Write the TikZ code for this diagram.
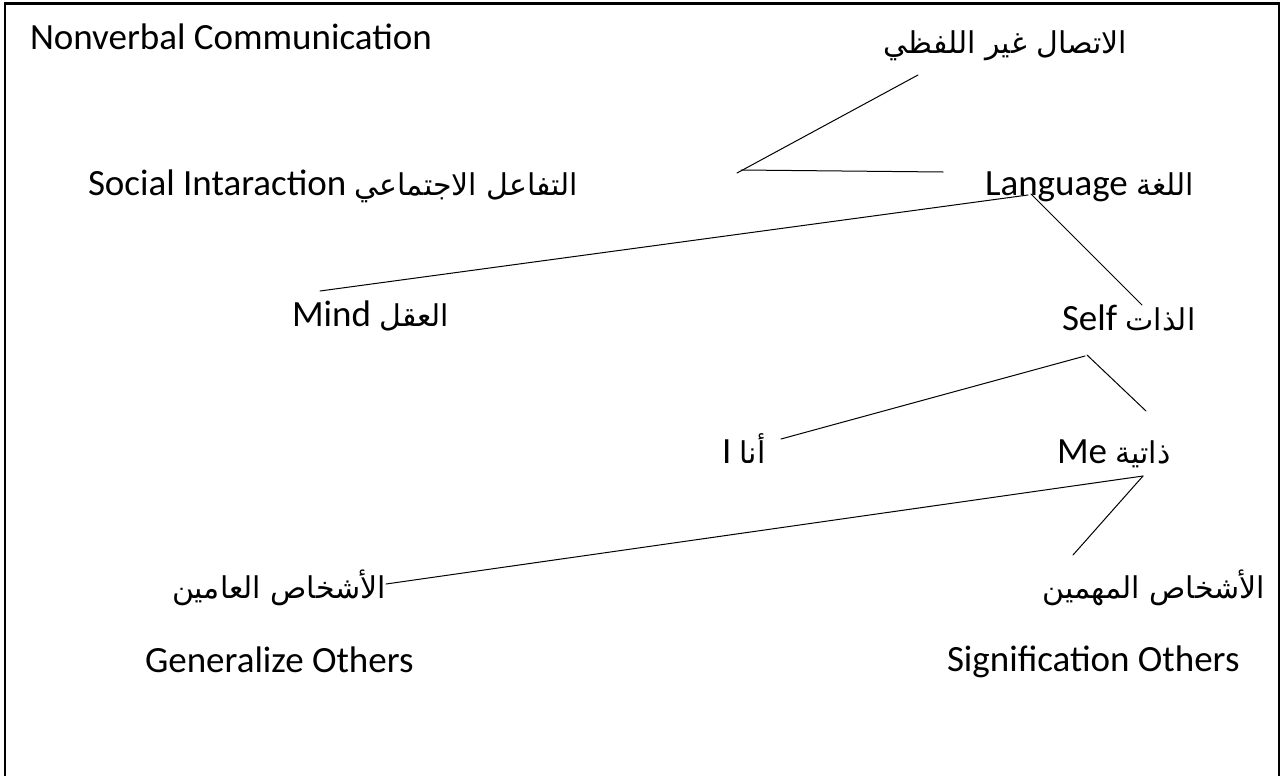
\documentclass[tikz,border=0pt]{standalone}
\usepackage{fontspec}
\setmainfont{Carlito}
\newfontfamily\arfont[Script=Arabic]{DejaVu Sans}
\TeXXeTstate=1
\newcommand{\AR}[1]{{\fontsize{30}{36}\arfont\selectfont\beginR #1\endR}}
\begin{document}
\begin{tikzpicture}[x=1pt,y=-1pt,
  lbl/.style={inner sep=0pt, outer sep=0pt, font=\fontsize{37}{44}\selectfont},
  conn/.style={line width=1pt, line cap=round},
  frame/.style={line width=2.5pt}]
\useasboundingbox (0,0) rectangle (1282,776);
\fill[white] (0,0) rectangle (1282,776);
\draw[frame] (5,776) -- (5,3.5) -- (1279,3.5) -- (1279,776);

% labels
\node[lbl, anchor=base west] (nvc) at (30,50) {Nonverbal Communication};
\node[lbl, anchor=base east] (nvcar) at (1127,53) {\AR{الاتصال غير اللفظي}};
\node[lbl, anchor=base west] (soc) at (88,195) {Social Intaraction \AR{التفاعل الاجتماعي}};
\node[lbl, anchor=base west] (lang) at (985,195) {Language \AR{اللغة}};
\node[lbl, anchor=base west] (mind) at (292,326) {Mind \AR{العقل}};
\node[lbl, anchor=base west] (self) at (1062,330) {Self \AR{الذات}};
\node[lbl, anchor=base west] (i) at (722,463) {I \AR{أنا}};
\node[lbl, anchor=base west] (me) at (1057,463) {Me \AR{ذاتية}};
\node[lbl, anchor=base east] (gen) at (386,598) {\AR{الأشخاص العامين}};
\node[lbl, anchor=base east] (sig) at (1265,598) {\AR{الأشخاص المهمين}};
\node[lbl, anchor=base west] (geno) at (145,672) {Generalize Others};
\node[lbl, anchor=base west] (sigo) at (947,671) {Signification Others};

% connector end points
\coordinate (t1) at (918,75);
\coordinate (t2) at (737,173);
\coordinate (t3) at (741,170);
\coordinate (t4) at (943,172);
\coordinate (l1) at (1028,195);
\coordinate (l2) at (320,291);
\coordinate (l3) at (1031,194);
\coordinate (l4) at (1142,305);
\coordinate (s1) at (1085,356);
\coordinate (s2) at (781,439);
\coordinate (s3) at (1087,355);
\coordinate (s4) at (1146,411);
\coordinate (m1) at (1143,476);
\coordinate (m2) at (386,584);
\coordinate (m3) at (1073,555);

\draw[conn] (t1) -- (t2);
\draw[conn] (t3) -- (t4);
\draw[conn] (l1) -- (l2);
\draw[conn] (l3) -- (l4);
\draw[conn] (s1) -- (s2);
\draw[conn] (s3) -- (s4);
\draw[conn] (m1) -- (m2);
\draw[conn] (m1) -- (m3);
\end{tikzpicture}
\end{document}
